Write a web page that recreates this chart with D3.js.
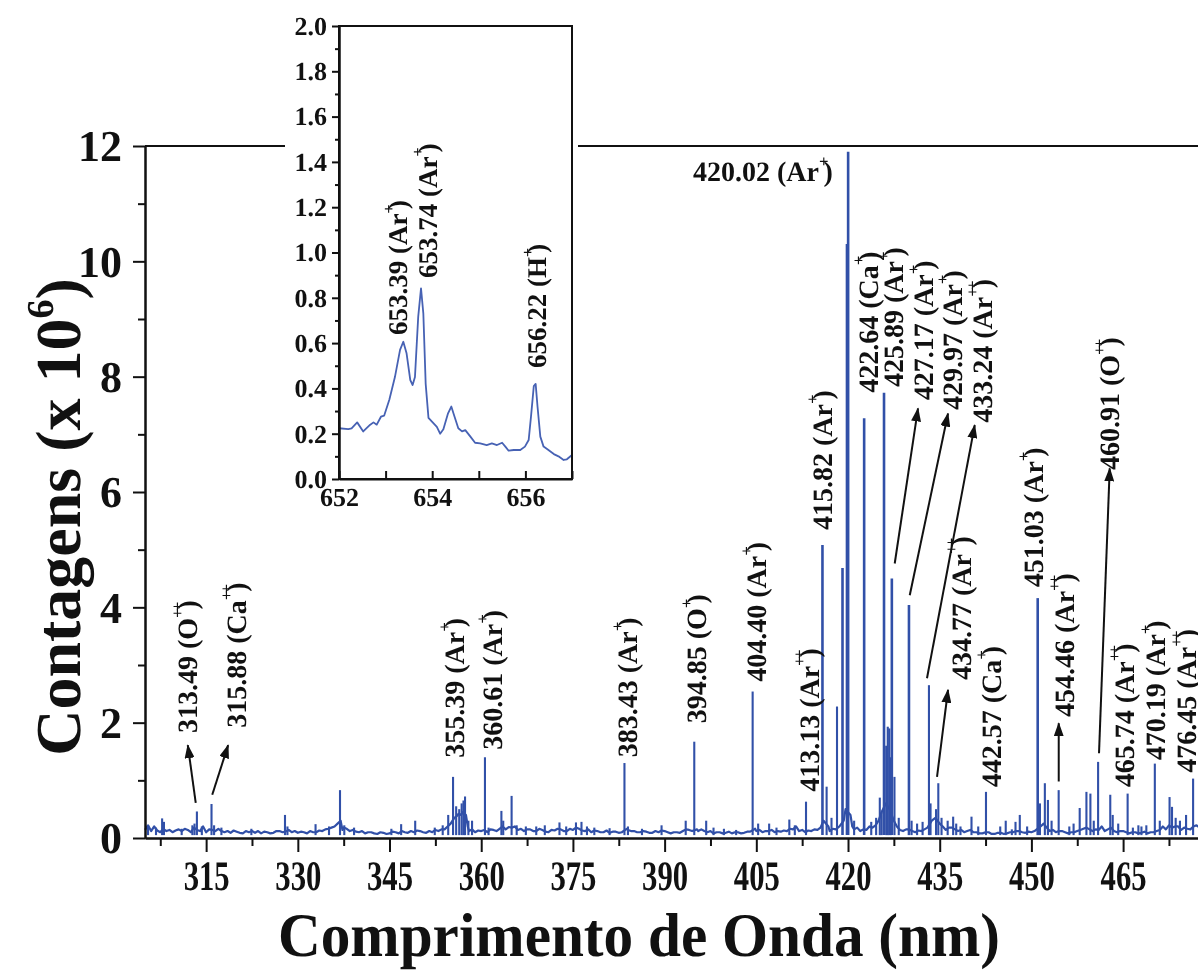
<!DOCTYPE html>
<html><head><meta charset="utf-8">
<script src="https://cdn.jsdelivr.net/npm/d3@7"></script>
<style>
html,body{margin:0;padding:0;background:#fff;}
svg{display:block;transform:translateZ(0);}
svg text{font-family:"Liberation Serif","Times New Roman",serif;font-weight:bold;text-rendering:geometricPrecision;-webkit-font-smoothing:antialiased;}
</style></head><body>
<svg id="chart" width="1198" height="973"></svg>
<script>
// ---- Emission spectrum, counts in units of 10^6 ----
// continuum / noise floor: [wavelength nm, counts]
const continuum = [
 [305,.14],[305.5,.22],[306,.12],[306.5,.2],[307,.13],[307.5,.1],[308,.16],[308.5,.12],[309,.14],[309.5,.1],
 [310,.13],[310.5,.15],[311,.12],[311.5,.16],[312,.14],[312.5,.1],[313,.18],[313.5,.14],[314,.12],[314.5,.2],
 [315,.1],[315.5,.15],[316,.14],[316.5,.12],[317,.16],[317.5,.12],[318,.1],[318.5,.12],[319,.09],[319.5,.13],
 [320,.11],[320.5,.09],[321,.08],[321.5,.12],[322,.1],[322.5,.12],[323,.09],[323.5,.12],[324,.08],[324.5,.11],
 [325,.1],[325.5,.08],[326,.09],[326.5,.12],[327,.12],[327.5,.1],[328,.11],[328.5,.14],[329,.1],[329.5,.12],
 [330,.09],[330.5,.11],[331,.1],[331.5,.08],[332,.12],[332.5,.1],[333,.1],[333.5,.13],[334,.12],[334.5,.15],
 [335,.16],[335.5,.18],[336,.2],[336.5,.25],[337,.3],[337.3,.14],[337.5,.18],[338,.16],[338.5,.12],[339,.14],
 [339.5,.11],[340,.1],[340.5,.12],[341,.08],[341.5,.1],[342,.1],[342.5,.08],[343,.07],[343.5,.1],[344,.09],
 [344.5,.07],[345,.08],[345.5,.11],[346,.1],[346.5,.08],[347,.12],[347.5,.1],[348,.09],[348.5,.12],[349,.1],
 [349.5,.13],[350,.12],[350.5,.1],[351,.09],[351.5,.12],[352,.1],[352.5,.14],[353,.12],[353.5,.15],[354,.15],
 [354.5,.2],[355,.25],[355.6,.35],[356,.38],[356.3,.42],[356.7,.4],[357,.45],[357.5,.4],[357.8,.2],[358,.12],
 [358.5,.15],[359,.1],[359.5,.13],[360,.12],[360.5,.14],[361,.1],[361.5,.15],[362,.14],[362.5,.12],[363,.16],
 [363.5,.2],[364,.15],[364.5,.19],[365,.18],[365.5,.2],[366,.14],[366.5,.16],[367,.12],[367.5,.15],[368,.15],
 [368.5,.12],[369,.12],[369.5,.16],[370,.14],[370.5,.11],[371,.1],[371.5,.14],[372,.13],[372.5,.16],[373,.15],
 [373.5,.12],[374,.12],[374.5,.16],[375,.14],[375.5,.18],[376,.16],[376.5,.13],[377,.12],[377.5,.15],[378,.1],
 [378.5,.13],[379,.12],[379.5,.1],[380,.1],[380.5,.13],[381,.09],[381.5,.11],[382,.11],[382.5,.09],[383,.1],
 [383.8,.16],[384,.14],[384.5,.12],[385,.12],[385.5,.1],[386,.1],[386.5,.12],[387,.11],[387.5,.09],[388,.09],
 [388.5,.12],[389,.1],[389.5,.13],[390,.12],[390.5,.1],[391,.08],[391.5,.1],[392,.1],[392.5,.09],[393,.12],
 [393.5,.15],[394,.14],[394.5,.12],[395.3,.15],[395.5,.12],[396,.15],[396.5,.12],[397,.1],[397.5,.12],[398,.08],
 [398.5,.1],[399,.1],[399.5,.08],[400,.09],[400.5,.11],[401,.08],[401.5,.1],[402,.1],[402.5,.08],[403,.09],
 [403.5,.11],[404,.11],[404.8,.16],[405,.12],[405.5,.14],[406,.1],[406.5,.12],[407,.12],[407.5,.14],[408,.1],
 [408.5,.12],[409,.11],[409.5,.13],[410,.12],[410.5,.16],[411,.15],[411.5,.2],[412,.12],[412.5,.14],[413,.1],
 [413.5,.13],[414,.12],[414.5,.15],[415,.14],[415.5,.18],[416,.3],[416.8,.2],[417,.12],[417.5,.16],[418,.15],
 [418.6,.2],[419.3,.3],[419.6,.5],[420.4,.4],[420.7,.2],[421,.15],[421.5,.18],[422,.12],[422.5,.15],[423,.14],
 [423.5,.2],[424,.18],[424.5,.22],[425,.3],[425.5,.45],[426.2,.6],[426.8,.5],[427.5,.3],[428,.2],[428.5,.14],
 [429,.12],[429.5,.15],[430,.15],[430.5,.12],[431,.1],[431.5,.13],[432,.12],[432.5,.15],[433,.18],[433.7,.3],
 [434.3,.35],[435,.25],[435.5,.2],[436,.14],[436.5,.18],[437,.18],[437.5,.15],[438,.12],[438.5,.14],[439,.1],
 [439.5,.12],[440,.14],[440.5,.1],[441,.1],[441.5,.08],[442,.08],[442.5,.1],[443,.1],[443.5,.07],[444,.07],
 [444.5,.09],[445,.09],[445.5,.07],[446,.08],[446.5,.1],[447,.1],[447.5,.12],[448,.12],[448.5,.1],[449,.09],
 [449.5,.11],[450,.1],[450.5,.12],[451.5,.2],[452,.25],[452.5,.18],[453,.12],[453.5,.14],[454,.1],[454.5,.12],
 [455,.12],[455.5,.1],[456,.08],[456.5,.1],[457,.1],[457.5,.12],[458,.14],[458.5,.16],[459,.18],[459.5,.15],
 [460,.12],[460.5,.15],[461,.14],[461.5,.2],[462,.12],[462.5,.15],[463,.18],[463.5,.12],[464,.1],[464.5,.12],
 [465,.12],[465.5,.1],[466,.08],[466.5,.1],[467,.1],[467.5,.08],[468,.09],[468.5,.11],[469,.08],[469.5,.1],
 [470,.1],[470.5,.12],[471,.14],[471.5,.2],[472,.15],[472.5,.22],[473,.18],[473.5,.2],[474,.2],[474.5,.14],
 [475,.18],[475.5,.16],[476,.15],[476.5,.2],[477,.22],[477.5,.18],[478,.2],[479,.17],[480,.18]
];

// emission lines: [wavelength nm, peak counts]
const emissionLines = [
 [305.5,0.2],[306.8,0.18],[307.8,0.34],[308.1,0.28],[311.0,0.16],[312.75,0.22],[313.1,0.25],[313.49,0.46],[314.3,0.2],
 [315.88,0.59],[316.3,0.22],[317.5,0.18],[322.4,0.16],[327.9,0.40],[328.3,0.2],[332.9,0.24],[335.1,0.2],[336.9,0.83],
 [337.6,0.22],[339.2,0.18],[345.3,0.16],[346.9,0.24],[349.2,0.3],[352.4,0.18],[353.7,0.22],[354.6,0.4],[355.39,1.06],
 [355.9,0.55],[356.4,0.5],[356.8,0.6],[357.1,0.65],[357.35,0.72],[357.9,0.3],[358.5,0.3],[360.61,1.40],[361.2,0.18],
 [363.3,0.47],[363.6,0.3],[364.97,0.73],[365.8,0.22],[367.3,0.2],[369.0,0.2],[370.4,0.22],[372.8,0.27],[373.9,0.2],
 [375.5,0.27],[376.4,0.28],[377.3,0.2],[378.5,0.18],[381.0,0.17],[383.43,1.30],[384.0,0.2],[386.3,0.16],[389.5,0.22],
 [393.45,0.3],[394.85,1.67],[396.8,0.3],[398.0,0.18],[399.7,0.16],[401.7,0.14],[404.40,2.54],[405.3,0.25],[407.1,0.25],
 [408.3,0.18],[410.4,0.32],[411.3,0.22],[413.13,0.63],[415.82,5.08],[416.5,0.89],[417.3,0.35],[418.2,2.28],[419.1,4.68],
 [419.83,10.3],[420.02,11.9],[421.0,0.3],[422.64,7.28],[423.8,0.28],[424.6,0.35],[425.2,0.7],[425.5,0.45],[425.89,7.72],
 [426.25,1.6],[426.5,1.93],[426.75,1.9],[427.0,1.4],[427.17,4.5],[427.6,1.06],[428.3,0.35],[429.97,4.04],[430.4,0.3],
 [431.3,0.25],[432.2,0.28],[433.24,2.65],[433.5,0.6],[434.4,0.5],[434.77,0.95],[435.3,0.35],[436.3,0.3],[437.2,0.37],
 [437.7,0.25],[438.4,0.2],[440.2,0.37],[441.3,0.2],[442.57,0.8],[444.9,0.2],[445.8,0.3],[446.8,0.15],[447.4,0.28],
 [448.1,0.4],[449.3,0.2],[451.03,4.16],[451.4,0.6],[452.2,0.95],[452.7,0.66],[453.3,0.3],[454.46,0.83],[456.2,0.2],
 [456.9,0.25],[457.9,0.52],[459.0,0.8],[459.65,0.77],[460.2,0.3],[460.91,1.32],[462.9,0.75],[463.3,0.4],[464.2,0.25],
 [465.74,0.77],[466.6,0.18],[467.5,0.22],[468.0,0.2],[468.8,0.22],[470.19,1.29],[471.0,0.3],[472.6,0.71],[473.0,0.54],
 [473.6,0.35],[474.3,0.3],[475.3,0.4],[476.45,1.03]
];

// identified lines: wavelength text, species, ionisation mark
const identified = [
 {wl:"313.49", ion:"O",  charge:"++"},
 {wl:"315.88", ion:"Ca", charge:"++"},
 {wl:"355.39", ion:"Ar", charge:"+"},
 {wl:"360.61", ion:"Ar", charge:"+"},
 {wl:"383.43", ion:"Ar", charge:"+"},
 {wl:"394.85", ion:"O",  charge:"+"},
 {wl:"404.40", ion:"Ar", charge:"+"},
 {wl:"413.13", ion:"Ar", charge:"++"},
 {wl:"415.82", ion:"Ar", charge:"+"},
 {wl:"422.64", ion:"Ca", charge:"+"},
 {wl:"425.89", ion:"Ar", charge:"+"},
 {wl:"427.17", ion:"Ar", charge:"+"},
 {wl:"429.97", ion:"Ar", charge:"+"},
 {wl:"433.24", ion:"Ar", charge:"++"},
 {wl:"434.77", ion:"Ar", charge:"++"},
 {wl:"442.57", ion:"Ca", charge:"+"},
 {wl:"451.03", ion:"Ar", charge:"+"},
 {wl:"454.46", ion:"Ar", charge:"++"},
 {wl:"460.91", ion:"O",  charge:"++"},
 {wl:"465.74", ion:"Ar", charge:"++"},
 {wl:"470.19", ion:"Ar", charge:"+"},
 {wl:"476.45", ion:"Ar", charge:"++"}
];
// where each identification label starts, in data units [nm, counts]
const labelFoot = [
 [311.9,1.82],[319.9,1.91],[355.5,1.39],[361.8,1.53],[383.75,1.40],[395.2,1.99],[404.87,2.71],[413.57,0.80],
 [415.8,5.34],[423.27,7.72],[427.31,7.82],[432.27,7.59],[437.0,7.42],[441.9,7.20],[438.5,2.74],[443.3,0.88],
 [450.3,4.35],[455.3,2.10],[462.7,6.38],[465.1,0.88],[470.2,1.35],[475.2,1.13]
];
// strongest line, labelled horizontally
const strongest = {wl:"420.02", ion:"Ar", charge:"+", at:[417.5,11.39]};

// pointer arrows from a line to its label: [fromNm, fromCounts, toNm, toCounts]
const pointers = [
 [313.3,0.61,312.0,1.61],[316.0,0.75,318.6,1.61],[427.64,4.76,431.45,7.45],[430.1,4.21,436.36,7.36],
 [432.92,2.77,440.73,7.16],[434.56,1.06,436.36,2.57],[454.47,0.98,454.47,1.99],[461.06,1.47,462.81,6.41]
];

// ---- Inset: H-alpha region ----
const insetSpectrum = [
 [652.0,0.224],[652.2,0.22],[652.27,0.224],[652.39,0.25],[652.52,0.21],[652.67,0.24],[652.74,0.25],[652.81,0.24],
 [652.9,0.275],[652.97,0.28],[653.08,0.35],[653.2,0.45],[653.31,0.57],[653.38,0.606],[653.45,0.555],[653.53,0.437],
 [653.58,0.415],[653.63,0.45],[653.7,0.717],[653.76,0.842],[653.81,0.73],[653.86,0.42],[653.92,0.27],[654.01,0.25],
 [654.1,0.23],[654.17,0.2],[654.24,0.22],[654.34,0.29],[654.41,0.32],[654.48,0.275],[654.56,0.224],[654.64,0.21],
 [654.71,0.216],[654.82,0.187],[654.92,0.16],[655.03,0.157],[655.17,0.15],[655.28,0.157],[655.39,0.15],[655.5,0.16],
 [655.57,0.143],[655.64,0.125],[655.75,0.128],[655.89,0.128],[655.99,0.143],[656.07,0.172],[656.12,0.275],[656.18,0.41],
 [656.22,0.42],[656.26,0.32],[656.32,0.187],[656.39,0.143],[656.48,0.13],[656.61,0.11],[656.71,0.1],[656.82,0.084],
 [656.89,0.087],[657.0,0.106]
];
const insetIdentified = [
 {wl:"653.39", ion:"Ar", charge:"+"},
 {wl:"653.74", ion:"Ar", charge:"+"},
 {wl:"656.22", ion:"H",  charge:"+"}
];
const insetLabelFoot = [[653.26,0.636],[653.89,0.887],[656.24,0.49]];

// axis ticks
const xMajor = [315,330,345,360,375,390,405,420,435,450,465];
const xMinor = [307.5,322.5,337.5,352.5,367.5,382.5,397.5,412.5,427.5,442.5,457.5,472.5];
const yMajor = [0,2,4,6,8,10,12];
const yMinor = [1,3,5,7,9,11];
const insetYMajor = [0,0.2,0.4,0.6,0.8,1.0,1.2,1.4,1.6,1.8,2.0];
const insetYMinor = [0.1,0.3,0.5,0.7,0.9,1.1,1.3,1.5,1.7,1.9];
const insetXTicks = [652,653,654,655,656,657];
const insetXLabels = [652,654,656];

// ---- drawing ----
const svg = d3.select("#chart");
const BLUE = "#3150a8";
const INK = "#111";

const x = d3.scaleLinear().domain([305,480]).range([145,1214.8]);
const y = d3.scaleLinear().domain([0,12]).range([838,146]);

svg.append("defs").append("marker")
  .attr("id","head").attr("markerUnits","userSpaceOnUse")
  .attr("markerWidth",14).attr("markerHeight",10).attr("refX",13).attr("refY",5)
  .attr("orient","auto")
  .append("path").attr("d","M0,0 L14,5 L0,10 Z").attr("fill",INK);

const plot = svg.append("g");

// continuum
plot.append("path").datum(continuum)
  .attr("fill","none").attr("stroke",BLUE).attr("stroke-width",2.2).attr("stroke-linejoin","round")
  .attr("d", d3.line().x(d=>x(d[0])).y(d=>y(d[1])));

// lines
plot.selectAll("path.em").data(emissionLines).join("path").attr("class","em")
  .attr("fill","none").attr("stroke",BLUE)
  .attr("stroke-width", d => d[1] > 3 ? 2.6 : 2.1)
  .attr("d", d => d3.line()([[x(d[0]),y(0.05)],[x(d[0]),y(d[1])]]));

// frame: bottom axis, left axis, top & right edges
const yAxis = d3.axisLeft(y).tickValues(yMajor).tickSize(12).tickSizeOuter(0).tickPadding(11).tickFormat(d3.format("d"));
const yAxisMinor = d3.axisLeft(y).tickValues(yMinor).tickSize(7).tickSizeOuter(0).tickFormat("");
const xAxis = d3.axisBottom(x).tickValues(xMajor).tickSize(14).tickSizeOuter(0).tickFormat(d3.format("d"));
const xAxisMinor = d3.axisBottom(x).tickValues(xMinor).tickSize(8).tickSizeOuter(0).tickFormat("");

const gy = svg.append("g").attr("transform",`translate(${x(305)},0)`).call(yAxis);
svg.append("g").attr("transform",`translate(${x(305)},0)`).call(yAxisMinor);
const gx = svg.append("g").attr("transform",`translate(0,${y(0)})`).call(xAxis);
svg.append("g").attr("transform",`translate(0,${y(0)})`).call(xAxisMinor);
svg.selectAll(".domain, .tick line").attr("stroke",INK).attr("stroke-width",2);

gy.selectAll("text").attr("font-size",44).attr("fill",INK).attr("dy","0.34em");
gx.selectAll("text").attr("font-size",42).attr("fill",INK)
  .attr("y",52).attr("dy",0).attr("textLength",46).attr("lengthAdjust","spacingAndGlyphs");

svg.append("path").attr("fill","none").attr("stroke",INK).attr("stroke-width",2)
  .attr("d", d3.line()([[x(305),y(12)],[x(480),y(12)],[x(480),y(0)]]));

// axis titles
svg.append("text").attr("x",639).attr("y",956).attr("text-anchor","middle")
  .attr("font-size",62).attr("fill",INK).attr("textLength",722).attr("lengthAdjust","spacingAndGlyphs")
  .text("Comprimento de Onda (nm)");
const yt = svg.append("text").attr("transform","translate(80,517) rotate(-90)")
  .attr("text-anchor","middle").attr("font-size",64).attr("fill",INK);
yt.append("tspan").text("Contagens (x 10");
yt.append("tspan").attr("font-size",38).attr("dy",-27).text("6");
yt.append("tspan").attr("dy",27).text(")");

// label with superscript ionisation mark
function ionText(t, d, size) {
  t.append("tspan").text(`${d.wl} (${d.ion}`);
  t.append("tspan").attr("font-size",size*0.6).attr("dy",-size*0.5)
    .attr("letter-spacing", d.charge.length > 1 ? -size*0.1 : 0).text(d.charge);
  t.append("tspan").attr("dy",size*0.5).attr("dx",-size*0.18).text(")");
}

const LS = 28;
identified.forEach((d,i) => {
  const [nm, c] = labelFoot[i];
  const t = svg.append("text")
    .attr("transform",`translate(${x(nm)},${y(c)}) rotate(-90)`)
    .attr("font-size",LS).attr("fill",INK);
  ionText(t, d, LS);
  t.select("tspan").attr("dy","0.36em");
});
{
  const t = svg.append("text").attr("x",x(strongest.at[0])).attr("y",y(strongest.at[1]))
    .attr("text-anchor","end").attr("font-size",28).attr("fill",INK);
  ionText(t, strongest, 28);
}

svg.selectAll("line.ptr").data(pointers).join("line").attr("class","ptr")
  .attr("x1",d=>x(d[0])).attr("y1",d=>y(d[1])).attr("x2",d=>x(d[2])).attr("y2",d=>y(d[3]))
  .attr("stroke",INK).attr("stroke-width",2).attr("marker-end","url(#head)");

// ---- inset ----
const xi = d3.scaleLinear().domain([652,657]).range([339,572]);
const yi = d3.scaleLinear().domain([0,2]).range([479,26]);
const inset = svg.append("g");
inset.append("rect").attr("x",285).attr("y",0).attr("width",293).attr("height",510).attr("fill","#fff");
inset.append("path").datum(insetSpectrum)
  .attr("fill","none").attr("stroke","#4762b4").attr("stroke-width",1.8).attr("stroke-linejoin","round")
  .attr("d", d3.line().x(d=>xi(d[0])).y(d=>yi(d[1])));
inset.append("rect").attr("x",xi(652)).attr("y",yi(2)).attr("width",xi(657)-xi(652)).attr("height",yi(0)-yi(2))
  .attr("fill","none").attr("stroke",INK).attr("stroke-width",2);
const giy = inset.append("g").attr("transform",`translate(${xi(652)},0)`)
  .call(d3.axisLeft(yi).tickValues(insetYMajor).tickSize(7).tickSizeOuter(0).tickPadding(5).tickFormat(d3.format(".1f")));
inset.append("g").attr("transform",`translate(${xi(652)},0)`)
  .call(d3.axisLeft(yi).tickValues(insetYMinor).tickSize(4).tickSizeOuter(0).tickFormat(""));
const gix = inset.append("g").attr("transform",`translate(0,${yi(0)})`)
  .call(d3.axisBottom(xi).tickValues(insetXTicks).tickSize(-8).tickSizeOuter(0).tickPadding(9)
    .tickFormat(d => insetXLabels.includes(d) ? d3.format("d")(d) : ""));
inset.selectAll(".domain, .tick line").attr("stroke",INK).attr("stroke-width",2);
giy.selectAll("text").attr("font-size",26).attr("fill",INK);
gix.selectAll("text").attr("font-size",26).attr("fill",INK);

insetIdentified.forEach((d,i) => {
  const [nm, c] = insetLabelFoot[i];
  const t = inset.append("text")
    .attr("transform",`translate(${xi(nm)},${yi(c)}) rotate(-90)`)
    .attr("font-size",27).attr("fill",INK);
  ionText(t, d, 27);
  t.select("tspan").attr("dy","0.36em");
});
</script>
</body></html>
